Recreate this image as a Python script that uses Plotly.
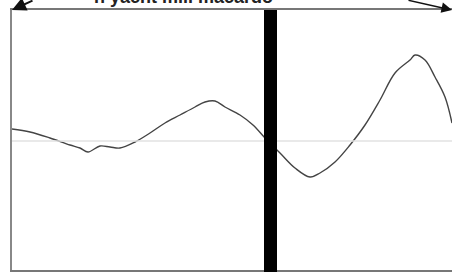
import plotly.graph_objects as go

# waveform samples (time units, amplitude units)
time_vals = [0, 18, 38, 58, 68, 76, 88, 98, 108, 123, 138, 153, 168, 183, 193, 203, 213,
             228, 241, 253, 268, 283, 298, 308, 323, 338, 353, 368, 383, 398, 403, 413,
             423, 433, 440]
amp_vals = [12, 9, 3, -4, -7, -11, -5, -6, -7, -1, 8, 18, 26, 34, 39, 40, 34, 26, 16, 3,
            -12, -27, -36, -32, -21, -4, 16, 41, 68, 81, 86, 81, 64, 44, 18]
cursor_start = 252
cursor_end = 265
title_text = "n yacht mill macardo"

fig = go.Figure()
fig.add_trace(go.Scatter(x=time_vals, y=amp_vals, mode="lines",
                         line=dict(color="#444444", width=1.4, shape="spline"),
                         hoverinfo="skip", showlegend=False))

# zero baseline
fig.add_hline(y=0, line=dict(color="#e2e2e2", width=1.5))
# cursor bar
fig.add_vrect(x0=cursor_start, x1=cursor_end, y0=-0.01, y1=1.0,
              fillcolor="black", line_width=0, layer="above")

fig.add_annotation(xref="paper", yref="paper", x=0.39, y=1.05, text="<b>" + title_text + "</b>",
                   showarrow=False, font=dict(family="Liberation Sans, Arial", size=18, color="#222"),
                   yanchor="middle")
fig.add_annotation(xref="paper", yref="paper", x=0, y=1.0, ax=22, ay=-16, text="",
                   showarrow=True, arrowhead=2, arrowsize=1.4, arrowwidth=2, arrowcolor="#111")
fig.add_annotation(xref="paper", yref="paper", x=1.0, y=1.0, ax=-45, ay=-12, text="",
                   showarrow=True, arrowhead=2, arrowsize=1.4, arrowwidth=1.5, arrowcolor="#111")

fig.update_xaxes(range=[0, 440], showgrid=False, zeroline=False, showticklabels=False,
                 showline=True, mirror=True, linecolor="#777", linewidth=2, ticks="")
fig.update_yaxes(range=[-129, 131], showgrid=False, zeroline=False, showticklabels=False,
                 showline=True, mirror=False, linecolor="#888", linewidth=2, ticks="")

fig.update_layout(width=454, height=272, margin=dict(l=12, r=2, t=10, b=2),
                  paper_bgcolor="white", plot_bgcolor="white")
fig.write_html("out.html", config={"displayModeBar": False},
               post_script="document.body.style.margin='0';")
